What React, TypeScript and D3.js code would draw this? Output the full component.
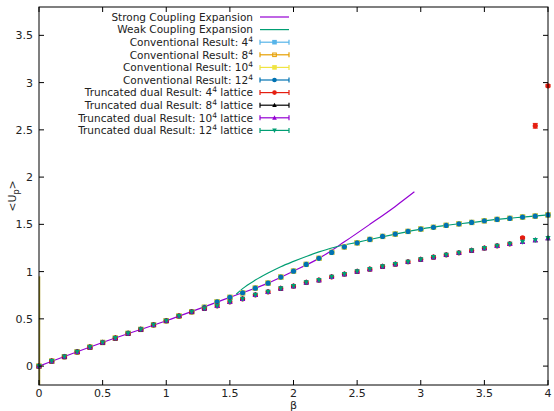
import React from "react";
import * as d3 from "d3";

// beta grid of the simulations, 0.0 .. 4.0 step 0.1
const betas = [
  0, 0.1, 0.2, 0.3, 0.4, 0.5, 0.6, 0.7, 0.8, 0.9, 1.0, 1.1, 1.2, 1.3, 1.4, 1.5, 1.6, 1.7, 1.8, 1.9, 2.0,
  2.1, 2.2, 2.3, 2.4, 2.5, 2.6, 2.7, 2.8, 2.9, 3.0, 3.1, 3.2, 3.3, 3.4, 3.5, 3.6, 3.7, 3.8, 3.9, 4.0
];

// conventional results (all lattice sizes agree)
const conventional = [
  0, 0.053, 0.1, 0.15, 0.2, 0.25, 0.296, 0.346, 0.388, 0.437, 0.48, 0.53, 0.575, 0.622, 0.68, 0.727, 0.776,
  0.825, 0.878, 0.942, 1.005, 1.076, 1.14, 1.203, 1.262, 1.305, 1.34, 1.372, 1.397, 1.425, 1.45, 1.468,
  1.489, 1.506, 1.52, 1.538, 1.552, 1.563, 1.577, 1.587, 1.6
];

// truncated dual results (8^4, 10^4, 12^4)
const truncated = [
  0, 0.053, 0.1, 0.15, 0.2, 0.25, 0.296, 0.346, 0.388, 0.437, 0.48, 0.53, 0.575, 0.61, 0.638, 0.68, 0.712,
  0.754, 0.786, 0.822, 0.847, 0.886, 0.91, 0.945, 0.974, 1.002, 1.026, 1.055, 1.079, 1.104, 1.13, 1.153,
  1.178, 1.199, 1.224, 1.249, 1.273, 1.294, 1.315, 1.333, 1.354
];

// truncated 4^4 deviates at the last three betas (3.8, 3.9, 4.0)
const truncated4Tail = [1.358, 2.543, 2.966];
const truncated4TailErr = [0.01, 0.025, 0.012];

const strongBeta = [0, 0.5, 1.0, 1.5, 1.8, 2.0, 2.2, 2.4, 2.6, 2.8, 2.95];
const strongVal = [0, 0.25, 0.48, 0.727, 0.878, 1.005, 1.14, 1.315, 1.5, 1.69, 1.844];

const weakBeta = [1.55, 1.6, 1.7, 1.8, 1.9, 2.0, 2.1, 2.2, 2.3, 2.4, 2.5, 2.6, 2.8, 3.0, 3.2, 3.4, 3.6, 3.8, 4.0];
const weakVal = [0.76, 0.82, 0.91, 0.985, 1.052, 1.108, 1.16, 1.208, 1.25, 1.282, 1.31, 1.34, 1.397, 1.45, 1.489, 1.52, 1.552, 1.577, 1.6];

const xTicks = [0, 0.5, 1, 1.5, 2, 2.5, 3, 3.5, 4];
const yTicks = [0, 0.5, 1, 1.5, 2, 2.5, 3, 3.5];

const C = {
  purple: "#9400d3",
  green: "#009e73",
  lightblue: "#56b4e9",
  orange: "#e69f00",
  yellow: "#f0e442",
  blue: "#0072b2",
  red: "#e51e10",
  black: "#000000"
};

type Shape = "fsquare" | "osquare" | "fcircle" | "ftri" | "itri";

function Marker({ x, y, shape, color, s = 2.6 }: { x: number; y: number; shape: Shape; color: string; s?: number }) {
  if (shape === "fsquare") return <rect x={x - s} y={y - s} width={2 * s} height={2 * s} fill={color} />;
  if (shape === "osquare")
    return <rect x={x - s + 0.5} y={y - s + 0.5} width={2 * s - 1} height={2 * s - 1} fill="none" stroke={color} strokeWidth={1} />;
  if (shape === "fcircle") return <circle cx={x} cy={y} r={s} fill={color} />;
  if (shape === "ftri")
    return <path d={`M${x},${y - s * 1.1}L${x + s},${y + s * 0.8}L${x - s},${y + s * 0.8}Z`} fill={color} />;
  return <path d={`M${x},${y + s * 1.1}L${x + s},${y - s * 0.8}L${x - s},${y - s * 0.8}Z`} fill={color} />;
}

export default function App() {
  const W = 554,
    H = 411,
    left = 39,
    right = 548,
    top = 7,
    bottom = 385;

  const x = d3.scaleLinear().domain([0, 4]).range([left, right]);
  const y = d3.scaleLinear().domain([-0.2, 3.8]).range([bottom, top]);

  const line = d3
    .line<[number, number]>()
    .x(d => x(d[0]))
    .y(d => y(d[1]))
    .curve(d3.curveMonotoneX);

  const strongPath = line(strongBeta.map((b, i) => [b, strongVal[i]]) as [number, number][]) || "";
  const weakPath = line(weakBeta.map((b, i) => [b, weakVal[i]]) as [number, number][]) || "";

  const truncated4 = truncated.map((v, i) => (i >= betas.length - 3 ? truncated4Tail[i - (betas.length - 3)] : v));

  const series: { vals: number[]; shape: Shape; color: string }[] = [
    { vals: conventional, shape: "fsquare", color: C.lightblue },
    { vals: conventional, shape: "osquare", color: C.orange },
    { vals: conventional, shape: "fsquare", color: C.yellow },
    { vals: conventional, shape: "fcircle", color: C.blue },
    { vals: truncated4, shape: "fcircle", color: C.red },
    { vals: truncated, shape: "ftri", color: C.black },
    { vals: truncated, shape: "ftri", color: C.purple },
    { vals: truncated, shape: "itri", color: C.green }
  ];

  const font = "'DejaVu Sans', sans-serif";
  const legX = 253,
    sx1 = 260,
    sx2 = 289,
    legY0 = 17,
    legDy = 12.6;

  const conv = (n: string) => (
    <>
      Conventional Result: {n}
      <tspan dy={-4} fontSize={7.5}>
        4
      </tspan>
    </>
  );
  const dual = (n: string) => (
    <>
      Truncated dual Result: {n}
      <tspan dy={-4} fontSize={7.5}>
        4
      </tspan>
      <tspan dy={4}> lattice</tspan>
    </>
  );

  const legendLabels: React.ReactNode[] = [
    "Strong Coupling Expansion",
    "Weak Coupling Expansion",
    conv("4"),
    conv("8"),
    conv("10"),
    conv("12"),
    dual("4"),
    dual("8"),
    dual("10"),
    dual("12")
  ];

  return (
    <svg width={W} height={H} style={{ position: "absolute", left: 0, top: 0, background: "#fff" }} fontFamily={font}>
      <rect width={W} height={H} fill="#fff" />

      {/* vertical trace at beta = 0 */}
      <line x1={x(0) + 0.5} x2={x(0) + 0.5} y1={y(0.95)} y2={bottom} stroke="#a89a20" strokeWidth={1.5} />

      {/* curves */}
      <path d={strongPath} fill="none" stroke={C.purple} strokeWidth={1.2} />
      <path d={weakPath} fill="none" stroke={C.green} strokeWidth={1.2} />

      {/* data points */}
      {series.map((s, si) => (
        <g key={si}>
          {s.vals.map((v, i) => (
            <Marker key={i} x={x(betas[i])} y={y(v)} shape={s.shape} color={s.color} />
          ))}
        </g>
      ))}
      {/* error bars on the deviating 4^4 dual points */}
      {truncated4Tail.map((v, i) => {
        const b = betas[betas.length - 3 + i];
        const e = truncated4TailErr[i];
        return (
          <g key={i} stroke={C.red} strokeWidth={1}>
            <line x1={x(b)} x2={x(b)} y1={y(v - e)} y2={y(v + e)} />
            <line x1={x(b) - 2.5} x2={x(b) + 2.5} y1={y(v - e)} y2={y(v - e)} />
            <line x1={x(b) - 2.5} x2={x(b) + 2.5} y1={y(v + e)} y2={y(v + e)} />
          </g>
        );
      })}

      {/* frame */}
      <rect x={left} y={top} width={right - left} height={bottom - top} fill="none" stroke="#000" strokeWidth={1} />

      {/* x ticks */}
      {xTicks.map((t, i) => (
        <g key={i}>
          <line x1={x(t)} x2={x(t)} y1={bottom} y2={bottom - 5} stroke="#000" />
          <line x1={x(t)} x2={x(t)} y1={top} y2={top + 5} stroke="#000" />
          <text x={x(t)} y={bottom + 12} fontSize={11} textAnchor="middle" fill="#222">
            {t}
          </text>
        </g>
      ))}
      {/* y ticks */}
      {yTicks.map((t, i) => (
        <g key={i}>
          <line x1={left} x2={left + 5} y1={y(t)} y2={y(t)} stroke="#000" />
          <line x1={right} x2={right - 5} y1={y(t)} y2={y(t)} stroke="#000" />
          <text x={left - 6} y={y(t) + 4} fontSize={11} textAnchor="end" fill="#222">
            {t}
          </text>
        </g>
      ))}

      {/* axis labels */}
      <text x={x(2)} y={409} fontSize={11} textAnchor="middle" fill="#222">
        β
      </text>
      <text transform={`translate(16,${y(1.8)}) rotate(-90)`} fontSize={11} textAnchor="middle" fill="#222">
        {"<U"}
        <tspan dy={3} fontSize={8}>
          p
        </tspan>
        <tspan dy={-3}>{">"}</tspan>
      </text>

      {/* legend */}
      {legendLabels.map((lab, i) => {
        const ly = legY0 + i * legDy;
        let sample: React.ReactNode;
        if (i === 0 || i === 1) {
          sample = <line x1={sx1} x2={sx2} y1={ly} y2={ly} stroke={i === 0 ? C.purple : C.green} strokeWidth={1.2} />;
        } else {
          const s = series[i - 2];
          sample = (
            <g>
              <g stroke={s.color} strokeWidth={1.2}>
                <line x1={sx1} x2={sx2} y1={ly} y2={ly} />
                <line x1={sx1} x2={sx1} y1={ly - 2.5} y2={ly + 2.5} />
                <line x1={sx2} x2={sx2} y1={ly - 2.5} y2={ly + 2.5} />
              </g>
              <Marker x={(sx1 + sx2) / 2} y={ly} shape={s.shape} color={s.color} s={2.3} />
            </g>
          );
        }
        return (
          <g key={i}>
            <text x={legX} y={ly + 3.8} fontSize={10.5} textAnchor="end" fill="#222">
              {lab}
            </text>
            {sample}
          </g>
        );
      })}
    </svg>
  );
}
